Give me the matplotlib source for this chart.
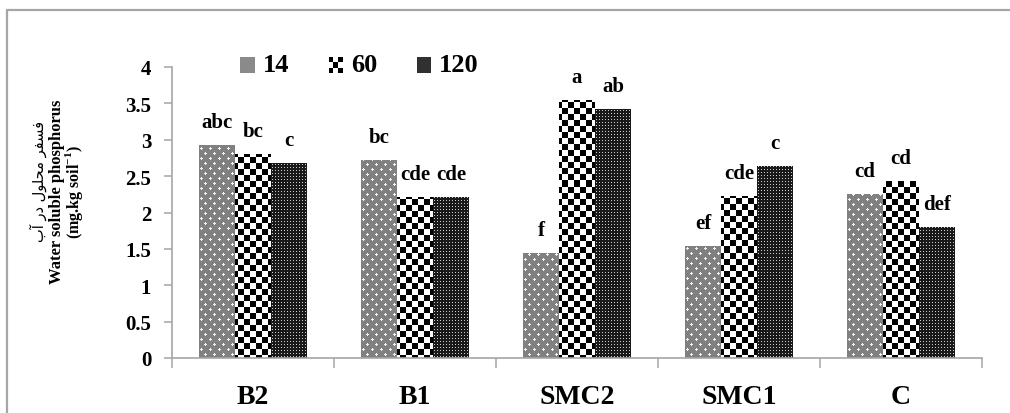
import matplotlib
matplotlib.use("Agg")
import matplotlib.pyplot as plt
from matplotlib.patches import Rectangle
from matplotlib.ticker import FixedLocator, FormatStrFormatter
import numpy as np

treatments = ["B2", "B1", "SMC2", "SMC1", "C"]
days = ["14", "60", "120"]
p_14 = [2.93, 2.72, 1.44, 1.54, 2.25]
p_60 = [2.80, 2.21, 3.55, 2.23, 2.43]
p_120 = [2.68, 2.21, 3.42, 2.64, 1.80]
letters_14 = ["abc", "bc", "f", "ef", "cd"]
letters_60 = ["bc", "cde", "a", "cde", "cd"]
letters_120 = ["c", "cde", "ab", "c", "def"]

plt.rcParams['font.family'] = ['Liberation Serif', 'DejaVu Serif']
plt.rcParams['mathtext.fontset'] = 'custom'
plt.rcParams['mathtext.rm'] = 'Liberation Serif'
plt.rcParams['mathtext.bf'] = 'Liberation Serif:bold'

GREY = '#a6a6a6'
W_PX, H_PX = 1010, 414


def texture(kind, h, w):
    r, c = np.mgrid[0:h, 0:w]
    if kind == 0:
        t = np.full((h, w), 0.5)
        centre = ((r % 10 == 2) & (c % 9 == 2)) | ((r % 10 == 7) & (c % 9 == 6))
        plus = centre.copy()
        plus[1:, :] |= centre[:-1, :]
        plus[:-1, :] |= centre[1:, :]
        plus[:, 1:] |= centre[:, :-1]
        plus[:, :-1] |= centre[:, 1:]
        t[plus] = 0.95
    elif kind == 1:
        t = (((r // 6) + (c // 6)) % 2).astype(float)
    else:
        t = np.where((r % 3 == 1) & (c % 3 == 1), 0.8, 0.1)
    return t


class TextureHandler:
    def __init__(self, kind):
        self.kind = kind

    def legend_artist(self, legend, orig_handle, fontsize, handlebox):
        x0, y0 = handlebox.xdescent, handlebox.ydescent
        w, h = handlebox.width, handlebox.height
        arts = []
        if self.kind == 1:
            n = 3
            for i in range(n):
                for j in range(n):
                    fc = 'black' if (i + j) % 2 == 0 else 'white'
                    arts.append(Rectangle((x0 + i * w / n, y0 + j * h / n), w / n, h / n,
                                          facecolor=fc, edgecolor='none',
                                          transform=handlebox.get_transform()))
        else:
            fc = '#8a8a8a' if self.kind == 0 else '#303030'
            arts.append(Rectangle((x0, y0), w, h, facecolor=fc, edgecolor='none',
                                  transform=handlebox.get_transform()))
        for a in arts:
            handlebox.add_artist(a)
        return arts[0]


fig = plt.figure(figsize=(W_PX / 100, H_PX / 100), dpi=100)
ax = fig.add_axes([172 / W_PX, 55 / H_PX, 810 / W_PX, 291 / H_PX])

x = np.arange(len(treatments))
bw = 0.222
series = [p_14, p_60, p_120]
letters = [letters_14, letters_60, letters_120]
xlim = (-0.5, len(treatments) - 0.5)
ylim = (0, 4)

handles = []
for k, vals in enumerate(series):
    bars = ax.bar(x + (k - 1) * bw, vals, bw, color='none', linewidth=0, label=days[k])
    handles.append(bars)
    tex = texture(k, 291, 810)
    for b in bars:
        im = ax.imshow(tex, cmap='gray', vmin=0, vmax=1, extent=(*xlim, *ylim),
                       aspect='auto', interpolation='none', zorder=2)
        im.set_clip_path(b)
    for xi, v, lab in zip(x + (k - 1) * bw, vals, letters[k]):
        ax.annotate(lab, (xi, v), xytext=(0, 16.5), textcoords='offset points',
                    ha='center', va='center', fontsize=15, fontweight='bold')

ax.set_xlim(*xlim)
ax.set_ylim(*ylim)

for s in ['top', 'right']:
    ax.spines[s].set_visible(False)
for s in ['left', 'bottom']:
    ax.spines[s].set_color(GREY)
    ax.spines[s].set_linewidth(1.2)

ax.set_yticks(np.arange(0, 4.01, 0.5))
ax.yaxis.set_major_formatter(FormatStrFormatter('%g'))
ax.tick_params(axis='y', length=6, width=1.1, color=GREY, pad=9, labelsize=15)
ax.set_xticks(x)
ax.set_xticklabels(treatments)
ax.xaxis.set_minor_locator(FixedLocator(np.arange(-0.5, len(treatments), 1.0)))
ax.tick_params(axis='x', which='major', length=0, pad=19, labelsize=20)
ax.tick_params(axis='x', which='minor', length=7, width=1.1, color=GREY)
for lab in ax.get_xticklabels() + ax.get_yticklabels():
    lab.set_fontweight('bold')

ax.legend(handles, days, ncol=3, frameon=False,
          prop={'weight': 'bold', 'size': 19},
          handler_map={h: TextureHandler(i) for i, h in enumerate(handles)},
          handlelength=0.55, handleheight=0.55, handletextpad=0.3,
          columnspacing=1.5, borderpad=0, borderaxespad=0,
          loc='center left', bbox_to_anchor=(240 / W_PX, 1 - 66 / H_PX),
          bbox_transform=fig.transFigure)

# y axis titles
persian = '\ufe8f\ufe81 \ufead\ufea9 \ufedd\ufeee\ufee0\ufea4\ufee3 \ufeae\ufed4\ufeb4\ufed3'
fig.text(38 / W_PX, 1 - 182 / H_PX, persian, rotation=90, ha='center', va='center',
         fontsize=10.5, family='DejaVu Sans')
fig.text(57 / W_PX, 1 - 192 / H_PX, 'Water soluble phosphorus', rotation=90,
         ha='center', va='center', fontsize=12, fontweight='bold')
fig.text(74 / W_PX, 1 - 192 / H_PX, r'(mg.kg soil$^{\mathbf{-1}}$)', rotation=90,
         ha='center', va='center', fontsize=11.5, fontweight='bold')

# chart area border (cropped on right and bottom)
fig.patches.append(Rectangle((7 / W_PX, -0.5), 2, 1.5 - 11 / H_PX, transform=fig.transFigure,
                             fill=False, edgecolor=GREY, linewidth=1.6))

fig.savefig('out.png', dpi=100)
